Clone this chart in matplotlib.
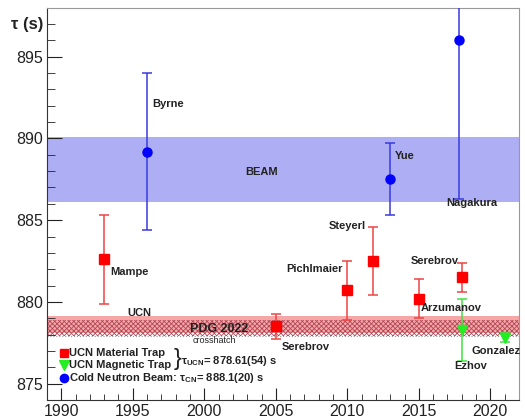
import numpy as np
import matplotlib.pyplot as plt
from matplotlib.ticker import MultipleLocator

plt.rcParams['font.family'] = ['Liberation Sans', 'DejaVu Sans']
plt.rcParams['mathtext.fontset'] = 'custom'
plt.rcParams['mathtext.rm'] = 'Liberation Sans'
plt.rcParams['mathtext.bf'] = 'Liberation Sans:bold'
plt.rcParams['mathtext.it'] = 'Liberation Sans:italic'
plt.rcParams['hatch.linewidth'] = 0.6

# UCN material (bottle) trap measurements
mat_names = ['Mampe', 'Serebrov', 'Pichlmaier', 'Steyerl', 'Arzumanov', 'Serebrov']
mat_year = [1993, 2005, 2010, 2011.8, 2015, 2018]
mat_tau = [882.6, 878.5, 880.7, 882.5, 880.2, 881.5]
mat_err = [2.7, 0.75, 1.8, 2.1, 1.2, 0.9]

# UCN magnetic trap measurements
mag_names = ['Ezhov', 'Gonzalez']
mag_year = [2018, 2021]
mag_tau = [878.3, 877.8]
mag_err = [1.9, 0.28]

# cold neutron beam measurements
beam_names = ['Byrne', 'Yue', 'Nagakura']
beam_year = [1996, 2013, 2017.8]
beam_tau = [889.2, 887.5, 896.0]
beam_err = [4.8, 2.2, 9.7]

# averages
tau_cn, tau_cn_err = 888.1, 2.0
tau_ucn, tau_ucn_err = 878.61, 0.54
tau_pdg, tau_pdg_err = 878.4, 0.5

fig = plt.figure(figsize=(5.25, 4.19), dpi=100)
ax = fig.add_axes([0.0895, 0.0453, 0.899, 0.9365])
ax.set_xlim(1989, 2022)
ax.set_ylim(874, 898)

xs = np.array([1989, 2022])
ax.fill_between(xs, tau_cn - tau_cn_err, tau_cn + tau_cn_err,
                color='#aeaef4', lw=0, zorder=1)
ax.fill_between(xs, tau_ucn - tau_ucn_err, tau_ucn + tau_ucn_err,
                color='#f6a6a6', lw=0, zorder=1)
ax.fill_between(xs, tau_pdg - tau_pdg_err, tau_pdg + tau_pdg_err,
                facecolor='none', edgecolor='#b04858', hatch='xxxxxxx',
                lw=0, zorder=1.5)
ax.plot(xs, [tau_pdg - tau_pdg_err] * 2, color='#999999', lw=0.8, ls=':', zorder=1.6)

ax.errorbar(mat_year, mat_tau, yerr=mat_err, fmt='s', ms=6.5, color='#ff0000',
            ecolor='#ee4444', elinewidth=1.1, capsize=3.5, capthick=1.1, zorder=3)
ax.errorbar(mag_year, mag_tau, yerr=mag_err, fmt='v', ms=7, color='#22ee22',
            ecolor='#44e044', elinewidth=1.1, capsize=3.5, capthick=1.1, zorder=3)
ax.errorbar(beam_year, beam_tau, yerr=beam_err, fmt='o', ms=6.5, color='#0000ff',
            ecolor='#3a3ae0', elinewidth=1.1, capsize=3.5, capthick=1.1, zorder=3)

# experiment labels
lab_kw = dict(fontsize=8, fontweight='bold', color='#222222', va='center', zorder=4)
label_pos = [
    ('Byrne', 1996.35, 892.1), ('Yue', 2013.3, 888.95), ('Nagakura', 2016.9, 886.05),
    ('Mampe', 1993.4, 881.8), ('Serebrov', 2005.4, 877.25), ('Pichlmaier', 2005.7, 882.0),
    ('Steyerl', 2008.7, 884.65), ('Serebrov', 2014.4, 882.5), ('Arzumanov', 2015.15, 879.6),
    ('Ezhov', 2017.45, 876.1), ('Gonzalez', 2018.7, 877.0),
]
for name, x, y in label_pos:
    ax.text(x, y, name, **lab_kw)

ax.text(2002.85, 887.95, 'BEAM', **lab_kw)
ax.text(1994.6, 879.3, 'UCN', **lab_kw)
ax.text(1999.0, 878.35, 'PDG 2022', fontsize=9, fontweight='bold', color='#222222',
        va='center', zorder=4)
ax.text(1999.2, 877.65, 'crosshatch', fontsize=6.5, color='#222222', va='center', zorder=4)

# legend box by hand
tr = ax.transAxes
ax.plot([0.036], [0.12], 's', ms=6, color='#ff0000', transform=tr, clip_on=False, zorder=4)
ax.plot([0.036], [0.088], 'v', ms=6.5, color='#22ee22', transform=tr, clip_on=False, zorder=4)
ax.plot([0.036], [0.056], 'o', ms=6, color='#0000ff', transform=tr, clip_on=False, zorder=4)
leg_kw = dict(fontsize=8, fontweight='bold', color='#222222', va='center',
              transform=tr, zorder=4)
ax.text(0.047, 0.12, 'UCN Material Trap', **leg_kw)
ax.text(0.047, 0.088, 'UCN Magnetic Trap', **leg_kw)
ax.text(0.047, 0.056, r'Cold Neutron Beam: τ$_{\mathbf{CN}}$= 888.1(20) s', **leg_kw)
ax.text(0.268, 0.104, '}', fontsize=17, color='#222222', va='center', transform=tr, zorder=4)
ax.text(0.284, 0.1, r'τ$_{\mathbf{UCN}}$= 878.61(54) s', **leg_kw)

# ROOT-like axes
ax.xaxis.set_major_locator(MultipleLocator(5))
ax.xaxis.set_minor_locator(MultipleLocator(1))
ax.yaxis.set_major_locator(MultipleLocator(5))
ax.yaxis.set_minor_locator(MultipleLocator(1))
ax.tick_params(axis='both', which='both', direction='in', top=False, right=False,
               labelsize=11.5, colors='#222222')
ax.tick_params(axis='y', which='major', length=11, pad=3)
ax.tick_params(axis='y', which='minor', length=5.5)
ax.tick_params(axis='x', which='major', length=9, pad=3)
ax.tick_params(axis='x', which='minor', length=4.5)
for side in ['top', 'right']:
    ax.spines[side].set_color('#999999')
for side in ['left', 'bottom']:
    ax.spines[side].set_color('#333333')

fig.text(0.082, 1 - 24 / 419, 'τ (s)', fontsize=12, fontweight='bold', ha='right',
         va='center', color='#222222')

fig.savefig('out.png', dpi=100)
